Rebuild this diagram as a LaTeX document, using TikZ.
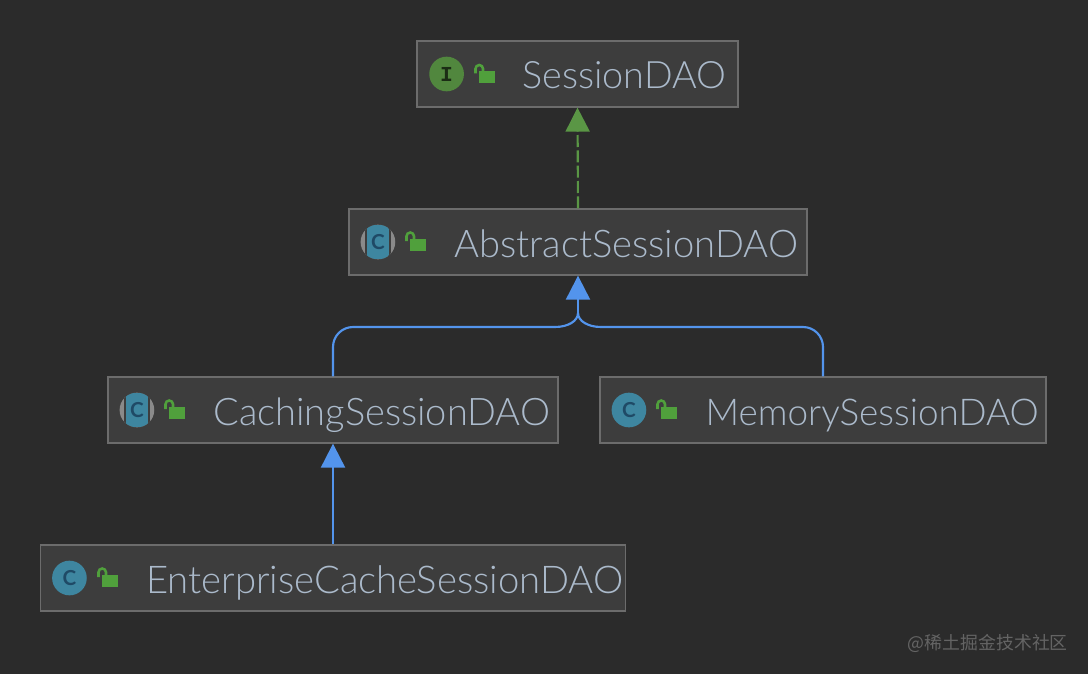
\documentclass[tikz,border=0pt]{standalone}
\usepackage{fontspec}
\setmainfont{Lato Light}
\newfontfamily\iconfont{Lato}
\newfontfamily\ifacefont{Liberation Mono}
\newfontfamily\cjkfont{Noto Sans CJK SC}
\usetikzlibrary{arrows.meta,positioning}
\definecolor{canvasbg}{HTML}{2B2B2B}
\definecolor{boxfill}{HTML}{3D3D3D}
\definecolor{boxline}{HTML}{6C6C6C}
\definecolor{labeltext}{HTML}{ABBACB}
\definecolor{implgreen}{HTML}{5A9645}
\definecolor{lockgreen}{HTML}{50A03C}
\definecolor{extblue}{HTML}{5394EC}
\definecolor{classblue}{HTML}{3E86A0}
\definecolor{letterblue}{HTML}{1F4A66}
\definecolor{abstractgrey}{HTML}{8A8A8A}
\definecolor{marktext}{HTML}{646464}
\tikzset{
	classbox/.style={draw=boxline,fill=boxfill,line width=1pt,minimum height=49.5pt,inner sep=0pt},
	classname/.style={anchor=west,inner sep=0pt,text=labeltext,text height=22.5pt,text depth=0pt,font=\fontsize{#1}{32}\selectfont},
	classname/.default=28.7,
	classicon/.style={circle,fill=classblue,minimum size=26pt,inner sep=0pt,text=letterblue,font=\iconfont\bfseries\fontsize{15.5}{16}\selectfont},
	abstracticon/.style={classicon,fill=abstractgrey,path picture={
		\fill[boxfill] ([xshift=-9.5pt]path picture bounding box.south) rectangle ([xshift=9.5pt]path picture bounding box.north);
		\fill[classblue] ([xshift=-8pt]path picture bounding box.south) rectangle ([xshift=8pt]path picture bounding box.north);
	}},
	ifaceicon/.style={circle,fill=implgreen!90!black,minimum size=26pt,inner sep=0pt,text=black!70!implgreen,font=\ifacefont\bfseries\fontsize{16}{16}\selectfont},
	lockicon/.pic={
		\fill[lockgreen] (-6,-3) rectangle (10,9);
		\draw[lockgreen,line width=1.9pt] (-9.5,-1) -- (-9.5,-5.75) arc (180:360:3.75) -- (-2,-3);
	},
	extline/.style={draw=extblue,line width=1.6pt},
	extarrow/.style={extline,-{Triangle[length=18pt,width=18pt,color=extblue]}},
	implarrow/.style={draw=implgreen,line width=1.6pt,dash pattern=on 9pt off 2.5pt,-{Triangle[length=18pt,width=18pt,color=implgreen]}},
}
\begin{document}
\begin{tikzpicture}[x=0.75pt,y=-0.75pt]
	\useasboundingbox[fill=canvasbg] (0,0) rectangle (1088,674);
	% boxes
	\node[classbox,minimum width=240.75pt] (session) at (577.5,74) {};
	\node[classbox,minimum width=343.5pt] (abstract) at (578,242) {};
	\node[classbox,minimum width=337.5pt] (caching) at (333,410) {};
	\node[classbox,minimum width=334.5pt] (memory) at (823,410) {};
	\node[classbox,minimum width=438.75pt] (enterprise) at (333,578) {};
	% names
	\node[classname=28.3,right=79.5pt of session.west] (sessionname) {SessionDAO};
	\node[classname=28.6,right=79.5pt of abstract.west] (abstractname) {AbstractSessionDAO};
	\node[classname=28.5,right=79.5pt of caching.west] (cachingname) {CachingSessionDAO};
	\node[classname=27.7,right=79.5pt of memory.west] (memoryname) {MemorySessionDAO};
	\node[classname,right=79.5pt of enterprise.west] (enterprisename) {EnterpriseCacheSessionDAO};
	% icons
	\node[ifaceicon,right=9.5pt of session.west] (sessionicon) {I};
	\pic at (485,74.5) {lockicon};
	\node[abstracticon,right=9pt of abstract.west] (abstracticon) {C};
	\pic at (416,242) {lockicon};
	\node[abstracticon,right=9pt of caching.west] (cachingicon) {C};
	\pic at (175,410) {lockicon};
	\node[classicon,right=9pt of memory.west] (memoryicon) {C};
	\pic at (667,410) {lockicon};
	\node[classicon,right=9pt of enterprise.west] (enterpriseicon) {C};
	\pic at (108,578) {lockicon};
	% connectors
	\coordinate (fork) at (578,313);
	\coordinate (forkleft) at (555,327);
	\coordinate (forkright) at (601,327);
	\draw[implarrow] (abstract.north) -- (session.south);
	\draw[extarrow] (fork) -- (abstract.south);
	\draw[extline,rounded corners=15pt] (caching.north) |- (forkleft);
	\draw[extline,rounded corners=15pt] (memory.north) |- (forkright);
	\draw[extline] (forkleft) .. controls (568,327) and (578,321) .. (fork);
	\draw[extline] (forkright) .. controls (588,327) and (578,321) .. (fork);
	\draw[extarrow] (enterprise.north) -- (caching.south);
	% watermark
	\node[anchor=east,inner sep=0pt,text=marktext,font=\cjkfont\fontsize{13.4}{16}\selectfont] (watermark) at (1068,643) {@稀土掘金技术社区};
\end{tikzpicture}
\end{document}
